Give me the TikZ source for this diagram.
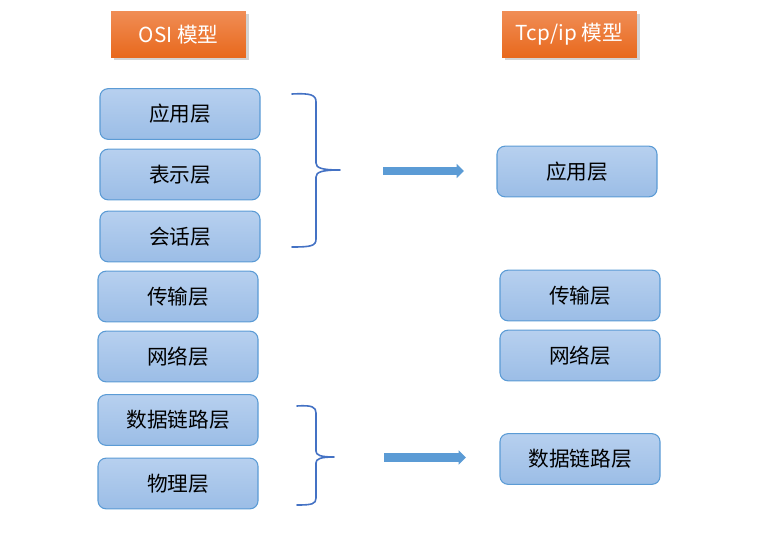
\documentclass[tikz,border=0pt]{standalone}
\usepackage{fontspec}
\setmainfont{Noto Sans CJK SC}
\usetikzlibrary{arrows.meta,shadows}
\definecolor{boxtop}{HTML}{B7D0EF}
\definecolor{boxbot}{HTML}{9BBDE6}
\definecolor{boxline}{HTML}{5B9BD5}
\definecolor{headtop}{HTML}{F08D55}
\definecolor{headbot}{HTML}{E8681C}
\definecolor{bracecol}{HTML}{4472C4}
\definecolor{arrowcol}{HTML}{5B9BD5}
\begin{document}
\begin{tikzpicture}[x=0.75pt,y=-0.75pt,line join=round,line cap=round,
	layer/.style={draw=boxline,line width=0.8pt,rounded corners=6pt,top color=boxtop,bottom color=boxbot,
		minimum width=120pt,minimum height=38pt,inner sep=0pt,font=\fontsize{15.5}{18}\selectfont},
	header/.style={top color=headtop,bottom color=headbot,minimum width=101pt,minimum height=35pt,inner sep=0pt,
		text=white,font=\fontsize{15.5}{18}\selectfont,drop shadow={opacity=0.35,shadow xshift=2pt,shadow yshift=-2pt}},
	brace/.style={draw=bracecol,line width=1.2pt},
	bigarrow/.style={draw=arrowcol,line width=6.5pt,line cap=butt,-{Triangle[length=5.5pt,width=10.5pt]}}]
	\useasboundingbox (0,0) rectangle (770,545);
	\node[header] (osi) at (178.5,34.5) {OSI 模型};
	\node[header] (tcpip) at (569.5,34.5) {Tcp/ip 模型};
	\node[layer] (app) at (180,114) {应用层};
	\node[layer] (pres) at (180,174.5) {表示层};
	\node[layer] (sess) at (180,236.5) {会话层};
	\node[layer] (trans) at (178,296.5) {传输层};
	\node[layer] (net) at (178,356.5) {网络层};
	\node[layer] (link) at (178,420) {数据链路层};
	\node[layer] (phys) at (178,483.5) {物理层};
	\node[layer] (tapp) at (577,171.5) {应用层};
	\node[layer] (ttrans) at (580,295.5) {传输层};
	\node[layer] (tnet) at (580,355.5) {网络层};
	\node[layer] (tlink) at (580,459) {数据链路层};
	\draw[brace] (292,94) .. controls (311,93) and (316,95) .. (316,102) -- (316,163)
		.. controls (316,168) and (322,170) .. (340,170)
		.. controls (322,170) and (316,172) .. (316,177) -- (316,239)
		.. controls (316,246) and (311,247) .. (292,247);
	\draw[brace] (297,406) .. controls (312,405) and (316,407) .. (316,413) -- (316,451)
		.. controls (316,455) and (320,457) .. (334,457)
		.. controls (320,457) and (316,459) .. (316,463) -- (316,498)
		.. controls (316,504) and (312,505) .. (297,505);
	\coordinate (a1) at (383,171);
	\coordinate (b1) at (464,171);
	\coordinate (a2) at (384,457.5);
	\coordinate (b2) at (466,457.5);
	\draw[bigarrow] (a1) -- (b1);
	\draw[bigarrow] (a2) -- (b2);
\end{tikzpicture}
\end{document}
